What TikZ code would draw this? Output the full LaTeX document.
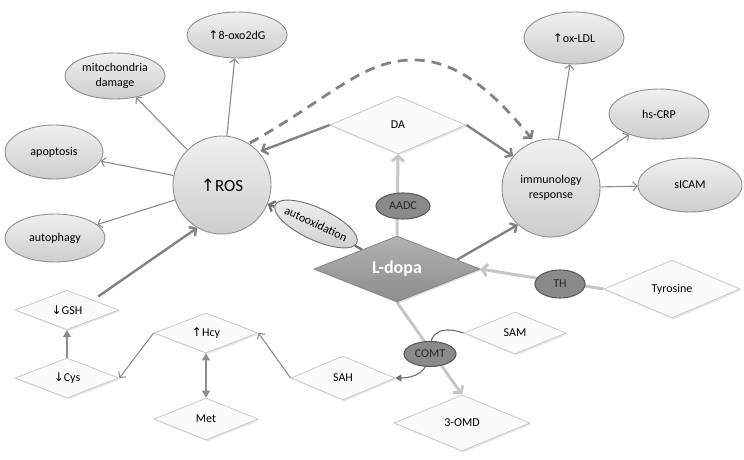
\documentclass[tikz,border=0pt]{standalone}
\usepackage{fontspec}
\setmainfont{Carlito}
\newfontfamily\symf{DejaVu Sans}
\usetikzlibrary{shapes.geometric,arrows.meta,shadows,backgrounds,calc}
\newcommand\upa{{\symf ↑}}
\newcommand\dna{{\symf ↓}}
\definecolor{thinC}{HTML}{8C8C8C}
\definecolor{thickC}{HTML}{828282}
\definecolor{darkC}{HTML}{6E6E6E}
\definecolor{lightC}{HTML}{C6C6C6}
\definecolor{ellB}{HTML}{8F8F8F}
\definecolor{ellT}{HTML}{F0F0F0}
\definecolor{ellD}{HTML}{CDCDCD}
\definecolor{diaB}{HTML}{C8C8C8}
\definecolor{diaF}{HTML}{FBFBFB}
\definecolor{enzF}{HTML}{8A8A8A}
\definecolor{enzB}{HTML}{5A5A5A}
\definecolor{ldT}{HTML}{B2B2B2}
\definecolor{ldD}{HTML}{8C8C8C}
\definecolor{ldB}{HTML}{858585}
\begin{document}
\begin{tikzpicture}[x=1pt,y=-1pt,
  font=\fontsize{12}{14.5}\selectfont,
  ell/.style={ellipse, draw=ellB, line width=0.9pt, top color=ellT, bottom color=ellD,
    inner xsep=-8pt, inner ysep=0pt, align=center},
  bigc/.style={circle, draw=ellB, line width=0.9pt, top color=ellT, bottom color=ellD,
    minimum size=98pt, inner sep=0pt, align=center},
  dia/.style={diamond, draw=diaB, line width=0.8pt, fill=diaF, inner sep=0pt,
    drop shadow={shadow xshift=1.5pt, shadow yshift=-1.5pt, opacity=0.18}},
  enz/.style={ellipse, draw=enzB, line width=1.1pt, fill=enzF, inner xsep=-8pt, inner ysep=0pt,
    text=black!85},
  thinA/.style={draw=thinC, line width=1.1pt, -{Straight Barb[length=4pt,width=9pt]}},
  thickA/.style={draw=thickC, line width=2.4pt, -{Straight Barb[length=5pt,width=11pt]}},
  darkA/.style={draw=darkC, line width=2.3pt},
  lightA/.style={draw=lightC, line width=3pt, -{Straight Barb[length=5pt,width=12pt]}},
  fillA/.style={draw=thinC, line width=1.6pt},
  dashA/.style={draw=thickC, line width=2.8pt, dash pattern=on 10pt off 7pt,
    -{Straight Barb[length=5pt,width=12pt]}}
]
\useasboundingbox (0,0) rectangle (744,460);

% circles
\node[bigc] (ROS) at (222,185) {\fontsize{17}{20}\selectfont\upa ROS};
\node[bigc] (imm) at (551,188) {immunology\\response};

% ellipses
\node[ell, minimum width=100pt, minimum height=46pt] (oxo) at (237,35) {\upa 8-oxo2dG};
\node[ell, minimum width=100pt, minimum height=46pt] (mito) at (115,76) {mitochondria\\damage};
\node[ell, minimum width=98pt, minimum height=54pt] (apop) at (54,152) {apoptosis};
\node[ell, minimum width=100pt, minimum height=48pt] (autoph) at (55,238) {autophagy};
\node[ell, minimum width=100pt, minimum height=52pt] (oxldl) at (574,38) {\upa ox-LDL};
\node[ell, minimum width=100pt, minimum height=50pt] (hscrp) at (659,114) {hs-CRP};
\node[ell, minimum width=104pt, minimum height=54pt] (sicam) at (690,185) {sICAM};
\node[ell, minimum width=90pt, minimum height=32pt, rotate=-25, line width=0.9pt, draw=darkC]
  (autoox) at (316,224) {autooxidation};

% diamonds
\node[dia, minimum width=136pt, minimum height=58pt] (DA) at (398,125) {DA};
\node[diamond, draw=ldB, line width=0.8pt, top color=ldT, bottom color=ldD, inner sep=0pt,
  minimum width=166pt, minimum height=66pt, text=white,
  drop shadow={shadow xshift=1.5pt, shadow yshift=-1.5pt, opacity=0.25}]
  (Ldopa) at (397,269) {\fontsize{18}{21}\selectfont\bfseries L-dopa};
\node[dia, minimum width=136pt, minimum height=58pt] (Tyr) at (672,289) {Tyrosine};
\node[dia, minimum width=102pt, minimum height=42pt] (SAM) at (515,333) {SAM};
\node[dia, minimum width=136pt, minimum height=56pt] (OMD) at (462,423) {3-OMD};
\node[dia, minimum width=104pt, minimum height=44pt] (SAH) at (343,378) {SAH};
\node[dia, minimum width=104pt, minimum height=40pt] (Hcy) at (206,333) {\upa Hcy};
\node[dia, minimum width=104pt, minimum height=42pt] (Met) at (206,419) {Met};
\node[dia, minimum width=104pt, minimum height=40pt] (Cys) at (67,378) {\dna Cys};
\node[dia, minimum width=104pt, minimum height=38pt] (GSH) at (67,310) {\dna GSH};

% enzymes
\node[enz, minimum width=54pt, minimum height=26pt] (AADC) at (403,206) {AADC};
\node[enz, minimum width=50pt, minimum height=28pt] (TH) at (560,284) {TH};
\node[enz, minimum width=52pt, minimum height=25pt] (COMT) at (430,354) {COMT};

\begin{pgfonlayer}{background}
  % ROS consequences
  \draw[thinA] (ROS) -- (oxo);
  \draw[thinA] (ROS) -- (mito);
  \draw[thinA] (ROS) -- (apop);
  \draw[thinA] (ROS) -- (autoph);
  % immunology consequences
  \draw[thinA] (imm) -- (oxldl);
  \draw[thinA] (imm) -- (hscrp);
  \draw[thinA] (imm) -- (sicam);
  % DA
  \draw[thickA, shorten >=2pt] (DA.west) -- (ROS.42);
  \draw[thickA] (DA.east) -- (imm.140);
  % L-dopa
  \draw[lightA] (Ldopa.north) -- (DA.south);
  \draw[darkA] (Ldopa) -- (autoox);
  \draw[darkA, -{Straight Barb[length=5pt,width=11pt]}] (autoox) -- (ROS);
  \draw[thickA] ($(Ldopa.north)!0.72!(Ldopa.east)$) -- (imm.228);
  \draw[lightA] (Tyr.west) -- (Ldopa.east);
  \draw[lightA] (Ldopa.south) -- (OMD.north);
  \draw[draw=darkC, line width=1.1pt, -{Triangle[length=6pt,width=7pt]}]
    (SAM.west) .. controls (446,327) and (428,328) .. (COMT.center)
    .. controls (428,372) and (414,378) .. (SAH.east);
  % methionine cycle
  \draw[thinA] (SAH.west) -- (Hcy.east);
  \draw[thinA] (Hcy.west) -- (Cys.east);
  \draw[fillA, {Triangle[length=7pt,width=8pt]}-{Triangle[length=7pt,width=8pt]}] (Hcy.south) -- (Met.north);
  \draw[fillA, -{Triangle[length=7pt,width=8pt]}] (Cys.north) -- (GSH.south);
  \draw[thickA, shorten <=6pt] (GSH.north east) -- (ROS.240);
  % dashed ROS -> immunology
  \draw[dashA, shorten <=1pt, shorten >=3pt] (ROS.57) .. controls (330,98) and (360,62) .. (410,60)
    .. controls (460,58) and (500,100) .. (imm.110);
\end{pgfonlayer}
\end{tikzpicture}
\end{document}
